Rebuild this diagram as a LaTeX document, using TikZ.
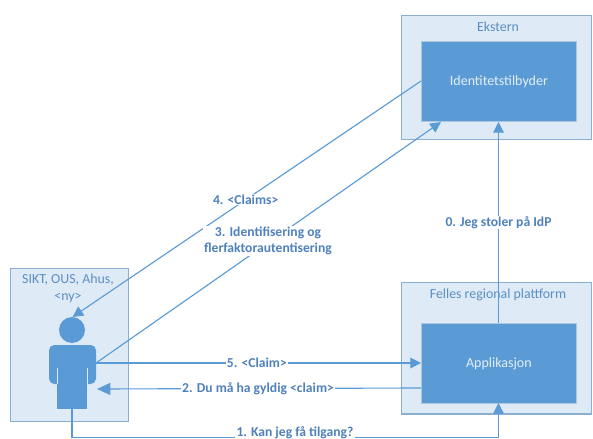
\documentclass[tikz,border=0pt]{standalone}
\usepackage{fontspec}
\setmainfont{Carlito}
\usetikzlibrary{arrows.meta,positioning}
\definecolor{mainblue}{HTML}{5B9BD5}
\definecolor{palefill}{HTML}{DEEAF6}
\definecolor{paleedge}{HTML}{8AAFD0}
\definecolor{titleblue}{HTML}{5B8FC4}
\definecolor{softwhite}{HTML}{E4EEF8}
\definecolor{labelblue}{HTML}{4F81BD}
\tikzset{
  x=0.75pt,y=-0.75pt,
  outerbox/.style={draw=paleedge,line width=1pt,fill=palefill,rectangle,inner sep=0pt,anchor=north west},
  innerbox/.style={draw=paleedge!70!white,line width=0.6pt,fill=mainblue,rectangle,inner sep=0pt,anchor=north west,text=softwhite,font=\fontsize{10.5}{12}\selectfont},
  titletext/.style={text=titleblue,font=\fontsize{10.4}{12.5}\selectfont,align=center,inner sep=0pt},
  personpart/.style={fill=mainblue,draw=none},
  link/.style={draw=mainblue,line width=0.85pt},
  arrowlink/.style={link,-{Triangle[length=8pt,width=8pt]}},
  bigarrowlink/.style={link,-{Triangle[length=10pt,width=9pt]}},
  linklabel/.style={text=labelblue,fill=white,font=\bfseries\fontsize{10.2}{12}\selectfont,align=center,inner xsep=1pt,inner ysep=0.5pt}
}
\begin{document}
\begin{tikzpicture}
\useasboundingbox (0,0) rectangle (593,439);
\clip (0,0) rectangle (593,439);
\fill[white] (0,0) rectangle (593,439);

\node[outerbox,minimum width=142.5pt,minimum height=93pt] (ext) at (401,15) {};
\node[outerbox,minimum width=142.5pt,minimum height=98.5pt] (felles) at (401,282) {};
\node[outerbox,minimum width=88.5pt,minimum height=114.5pt] (org) at (9.5,268) {};

\node[titletext] (exttitle) at (498,27) {Ekstern};
\node[titletext] (fellestitle) at (498,295) {Felles regional plattform};
\node[titletext] (orgtitle) at (68,288) {SIKT, OUS, Ahus,\\\textless ny\textgreater};

\node[innerbox,minimum width=116.25pt,minimum height=60pt] (idp) at (421,41) {Identitetstilbyder};
\node[innerbox,minimum width=116.25pt,minimum height=60pt] (app) at (421,323) {Applikasjon};

% person
\node[personpart,circle,minimum size=19.5pt,inner sep=0pt] (head) at (72,330) {};
\fill[mainblue,rounded corners=4pt] (49,345) rectangle (96,384);
\fill[mainblue] (57,370) rectangle (87,408.5);
\draw[palefill,line width=0.4pt] (57,368) -- (57,384);
\draw[palefill,line width=0.4pt] (87,368) -- (87,384);
\coordinate (headtop) at (72.5,317);
\coordinate (shoulder) at (96,363);
\coordinate (hand) at (97,389);
\coordinate (feet) at (72,408);
\coordinate (idpin) at (441,122);
\coordinate (idpout) at (421,81);
\coordinate (appleft) at (421,388);
\coordinate (corner) at (72,437.5);
\coordinate (corner2) at (498.5,437.5);
\coordinate (appin) at (498.5,403);
\coordinate (apptop) at (498.5,323);
\coordinate (idpbot) at (498.5,122);
\coordinate (appmid) at (421,363);

\draw[arrowlink] (idpout) -- node[linklabel,pos=0.503] (l4) {4. <Claims>} (headtop);
\draw[arrowlink] (shoulder) -- (idpin);
\node[linklabel] (l3) at (268,241) {3. Identifisering og\\flerfaktorautentisering};
\draw[arrowlink] (shoulder) -- node[linklabel,pos=0.495] (l5) {5. <Claim>} (appmid);
\draw[bigarrowlink] (appleft) -- node[linklabel,pos=0.503] (l2) {2. Du må ha gyldig <claim>} (hand);
\draw[arrowlink] (feet) -- (corner) -- (corner2) -- (appin);
\node[linklabel] (l1) at (295,433) {1. Kan jeg få tilgang?};
\draw[arrowlink] (apptop) -- node[linklabel,pos=0.5] (l0) {0. Jeg stoler på IdP} (idpbot);
\end{tikzpicture}
\end{document}
